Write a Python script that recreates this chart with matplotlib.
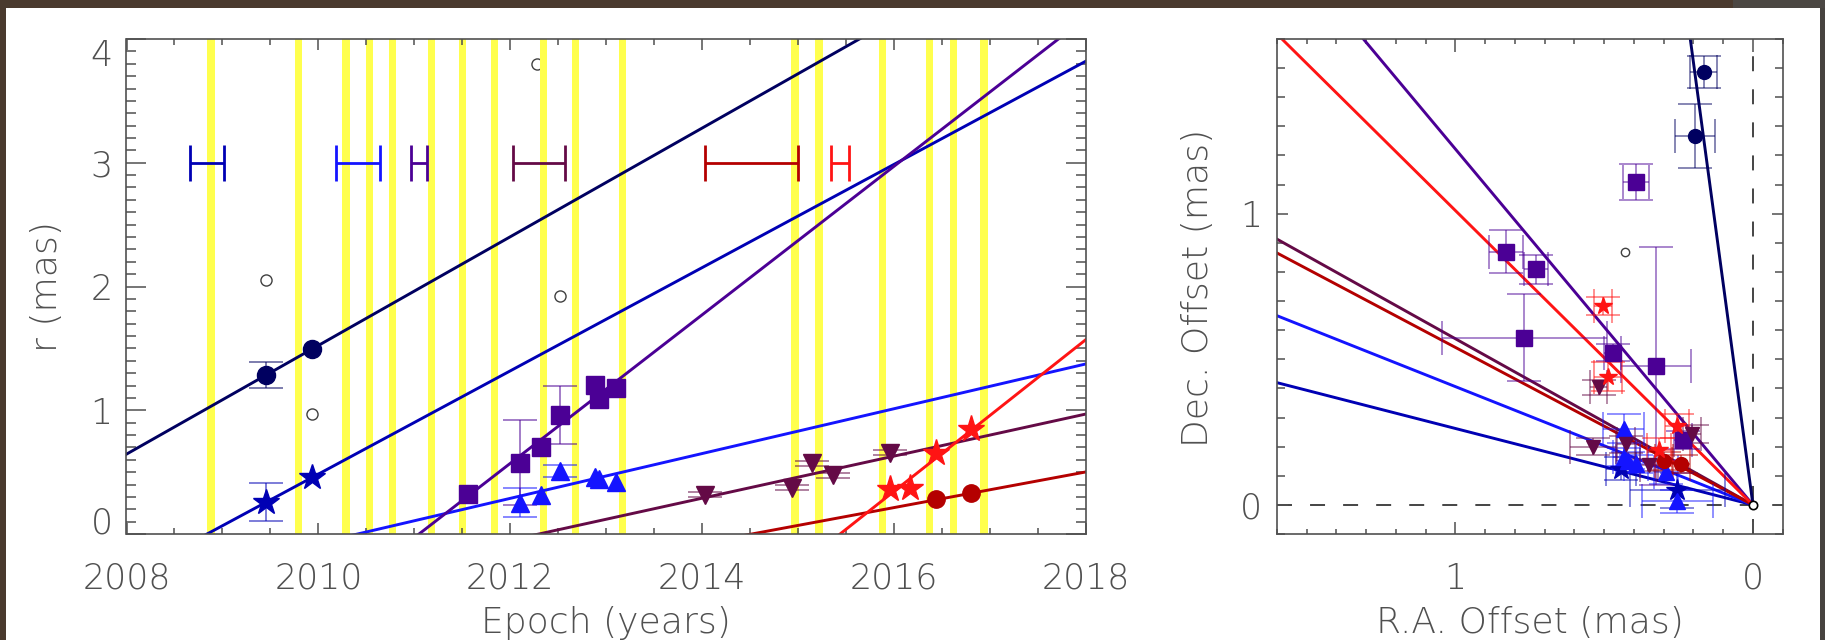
import numpy as np
import matplotlib
matplotlib.use('Agg')
import matplotlib.pyplot as plt
from matplotlib.patches import Rectangle
from matplotlib.colors import to_rgba

plt.rcParams['font.family'] = ['DejaVu Sans']
plt.rcParams['font.weight'] = 200

# observing epochs (yellow bands)
obs_epochs = [2008.88, 2009.79, 2010.29, 2010.53, 2010.77, 2011.18, 2011.50, 2011.84,
              2012.35, 2012.68, 2013.17, 2014.97, 2015.22, 2015.88, 2016.37, 2016.62, 2016.94]

# linear fits per component: ejection epoch (+ error), proper motion (mas/yr), position angle (deg)
fit_t0 = [2006.53, 2008.84, 2010.41, 2011.05, 2012.30, 2014.52, 2015.44]
fit_t0_err = [None, 0.177, 0.23, 0.085, 0.27, 0.485, 0.095]
fit_mu = [0.439, 0.417, 0.181, 0.600, 0.170, 0.144, 0.613]
fit_pa = [7.5, 75.3, 67.9, 39.3, 60.3, 61.6, 44.7]

# component positions: epoch, RA / Dec offsets (mas) and errors
c1_epoch = [2009.45, 2009.93]
c1_ra = [0.195, 0.166]
c1_dec = [1.267, 1.486]
c1_ra_err = [0.068, 0.044]
c1_dec_err = [0.109, 0.054]
c1_r_err = [0.105, 0.0]

c2_epoch = [2009.45, 2009.93]
c2_ra = [0.254, 0.444]
c2_dec = [0.05, 0.124]
c2_ra_err = [0.16, 0.05]
c2_dec_err = [0.06, 0.04]
c2_r_err = [0.157, 0.0]

c3_epoch = [2012.10, 2012.32, 2012.52, 2012.88, 2012.93, 2013.10]
c3_ra = [0.254, 0.293, 0.435, 0.432, 0.420, 0.392]
c3_dec = [0.012, 0.113, 0.262, 0.165, 0.152, 0.140]
c3_ra_err = [0.12, 0.04, 0.07, 0.04, 0.04, 0.04]
c3_dec_err = [0.04, 0.04, 0.05, 0.03, 0.03, 0.03]
c3_r_err = [0.12, 0.0, 0.05, 0.0, 0.0, 0.0]

c4_epoch = [2011.56, 2012.10, 2012.32, 2012.52, 2012.88, 2012.93, 2013.10]
c4_ra = [0.235, 0.325, 0.472, 0.769, 0.830, 0.729, 0.392]
c4_dec = [0.223, 0.477, 0.523, 0.574, 0.870, 0.809, 1.110]
c4_ra_err = [0.03, 0.117, 0.03, 0.277, 0.056, 0.04, 0.044]
c4_dec_err = [0.03, 0.41, 0.03, 0.15, 0.075, 0.05, 0.062]
c4_r_err = [0.0, 0.34, 0.0, 0.235, 0.0, 0.0, 0.0]

c5_epoch = [2014.03, 2014.94, 2015.15, 2015.37, 2015.96]
c5_ra = [0.204, 0.349, 0.537, 0.4255, 0.519]
c5_dec = [0.244, 0.137, 0.200, 0.208, 0.404]
c5_ra_err = [0.03, 0.03, 0.078, 0.03, 0.03]
c5_dec_err = [0.03, 0.02, 0.03, 0.03, 0.025]
c5_r_err = [0.02, 0.02, 0.02, 0.02, 0.02]

c6_epoch = [2016.44, 2016.81]
c6_ra = [0.242, 0.299]
c6_dec = [0.140, 0.151]
c6_ra_err = [0.03, 0.03]
c6_dec_err = [0.03, 0.03]
c6_r_err = [0.0, 0.0]

c7_epoch = [2015.96, 2016.17, 2016.44, 2016.81]
c7_ra = [0.315, 0.255, 0.487, 0.503]
c7_dec = [0.189, 0.271, 0.440, 0.683]
c7_ra_err = [0.04, 0.04, 0.048, 0.03]
c7_dec_err = [0.04, 0.04, 0.05, 0.03]
c7_r_err = [0.0, 0.0, 0.0, 0.0]

# unassociated features
open_epoch = [2009.45, 2009.93, 2012.28, 2012.52]
open_r = [2.05, 0.97, 3.80, 1.92]
open_ra = [0.429]
open_dec = [0.87]

series = [
    (c1_epoch, c1_ra, c1_dec, c1_ra_err, c1_dec_err, c1_r_err),
    (c2_epoch, c2_ra, c2_dec, c2_ra_err, c2_dec_err, c2_r_err),
    (c3_epoch, c3_ra, c3_dec, c3_ra_err, c3_dec_err, c3_r_err),
    (c4_epoch, c4_ra, c4_dec, c4_ra_err, c4_dec_err, c4_r_err),
    (c5_epoch, c5_ra, c5_dec, c5_ra_err, c5_dec_err, c5_r_err),
    (c6_epoch, c6_ra, c6_dec, c6_ra_err, c6_dec_err, c6_r_err),
    (c7_epoch, c7_ra, c7_dec, c7_ra_err, c7_dec_err, c7_r_err),
]

colors = ['#000060', '#0000b4', '#1414ff', '#4b0095', '#640a46', '#b40000', '#ff1414']
markers = ['o', '*', '^', 's', 'v', 'o', '*']
left_ms = [13, 19, 13, 13, 12.5, 12.5, 20]
right_ms = [10, 16, 11, 11, 10, 10, 13]

text_color = '#505050'
W, H = 1825, 640

fig = plt.figure(figsize=(W / 100, H / 100), dpi=100, facecolor='#4a3a2e')
# white page with the dark frame around it
fig.patches.append(Rectangle((6 / W, 0), (1820 - 6) / W, (H - 8) / H, transform=fig.transFigure,
                             facecolor='white', edgecolor='none', zorder=-10))
fig.patches.append(Rectangle((1733 / W, (H - 8) / H), (W - 1733) / W, 8 / H, transform=fig.transFigure,
                             facecolor='#4b4743', edgecolor='none', zorder=-10))
fig.patches.append(Rectangle((1820 / W, 0), 5 / W, (H - 8) / H, transform=fig.transFigure,
                             facecolor='#47433f', edgecolor='none', zorder=-10))

ax1 = fig.add_axes([126.5 / W, 106 / H, 959.1 / W, 495 / H])
ax2 = fig.add_axes([1277 / W, 106 / H, 505.7 / W, 495 / H])

for ax in (ax1, ax2):
    for sp in ax.spines.values():
        sp.set_color(text_color)
        sp.set_linewidth(1.2)

# ---- left panel: distance from core vs epoch ----
for e in obs_epochs:
    ax1.axvspan(e - 0.038, e + 0.038, color='#ffff4d', lw=0, zorder=1)

t = np.linspace(2006, 2018, 300)
for i in range(len(fit_t0)):
    ax1.plot(t, fit_mu[i] * (t - fit_t0[i]), color=colors[i], lw=2.1, zorder=2)
    if fit_t0_err[i] is not None:
        ax1.errorbar(fit_t0[i], 3, xerr=fit_t0_err[i], fmt='none', ecolor=colors[i],
                     elinewidth=2, capsize=13, capthick=2, zorder=3)

ax1.plot(open_epoch, open_r, linestyle='none', marker='o', ms=8, mfc='none',
         mec='#404040', mew=1, zorder=0.5)

for i, (ep, ra, dec, rae, dece, re) in enumerate(series):
    r = np.hypot(ra, dec)
    re = np.asarray(re)
    shown = re > 0
    if shown.any():
        ax1.errorbar(np.asarray(ep)[shown], r[shown], yerr=re[shown], fmt='none',
                     ecolor=to_rgba(colors[i], 0.65), elinewidth=1.1, capsize=12,
                     capthick=1.1, zorder=3)
    ax1.plot(ep, r, linestyle='none', marker=markers[i], ms=left_ms[i],
             color=colors[i], mec=colors[i], zorder=4)

ax1.set_xlim(2008, 2018)
ax1.set_ylim(0, 4)
ax1.set_xticks(range(2008, 2019, 2))
ax1.set_xticks(np.arange(2008, 2018.01, 0.5), minor=True)
ax1.set_yticks([0, 1, 2, 3, 4])
ax1.set_yticks(np.arange(0, 4.01, 0.1), minor=True)
ax1.tick_params(which='both', direction='in', top=True, right=True, colors=text_color,
                width=1.1, labelsize=25)
ax1.tick_params(axis='x', which='major', length=8, pad=20)
ax1.tick_params(axis='x', which='minor', length=4.3)
ax1.tick_params(axis='y', which='major', length=14.4, pad=10)
ax1.tick_params(axis='y', which='minor', length=7.2)
ylabels = ax1.get_yticklabels()
ylabels[0].set_va('baseline')
ylabels[-1].set_va('top')

# ---- right panel: sky positions ----
dash = (0, (7.7, 9.3))
ax2.axhline(0, color='#444444', lw=1.4, ls=dash, zorder=1)
ax2.axvline(0, color='#444444', lw=1.4, ls=dash, zorder=1)

for i in range(len(fit_pa)):
    pa = np.radians(fit_pa[i])
    ax2.plot([0, 3 * np.sin(pa)], [0, 3 * np.cos(pa)], color=colors[i], lw=2.1, zorder=2)

ax2.plot(open_ra, open_dec, linestyle='none', marker='o', ms=6, mfc='none',
         mec='#404040', mew=1, zorder=3)

for i, (ep, ra, dec, rae, dece, re) in enumerate(series):
    ax2.errorbar(ra, dec, xerr=rae, yerr=dece, fmt='none', ecolor=to_rgba(colors[i], 0.6),
                 elinewidth=1.1, capsize=12, capthick=1.1, zorder=3)
    ax2.plot(ra, dec, linestyle='none', marker=markers[i], ms=right_ms[i],
             color=colors[i], mec=colors[i], zorder=4)

ax2.plot([0], [0], linestyle='none', marker='o', ms=6, mfc='white', mec='black', mew=1.2, zorder=6)

ax2.set_xlim(1.6, -0.1)
ax2.set_ylim(-0.1, 1.6)
ax2.set_xticks([1, 0])
ax2.set_xticks(np.arange(-0.1, 1.61, 0.1), minor=True)
ax2.set_yticks([0, 1])
ax2.set_yticks(np.arange(-0.1, 1.61, 0.1), minor=True)
ax2.tick_params(which='both', direction='in', top=True, right=True, colors=text_color,
                width=1.1, labelsize=25)
ax2.tick_params(axis='x', which='major', length=9, pad=20)
ax2.tick_params(axis='x', which='minor', length=3.5)
ax2.tick_params(axis='y', which='major', length=8, pad=11)
ax2.tick_params(axis='y', which='minor', length=6)

# axis titles
fig.text(606 / W, 7 / H, 'Epoch (years)', ha='center', va='baseline', size=26, color=text_color)
fig.text(1530 / W, 7 / H, 'R.A. Offset (mas)', ha='center', va='baseline', size=26, color=text_color)
fig.text(47 / W, (H - 287) / H, 'r (mas)', rotation=90, ha='center', va='center', size=26, color=text_color)
fig.text(1198 / W, (H - 288) / H, 'Dec. Offset (mas)', rotation=90, ha='center', va='center',
         size=26, color=text_color)

fig.savefig('out.png', dpi=100, facecolor=fig.get_facecolor())
